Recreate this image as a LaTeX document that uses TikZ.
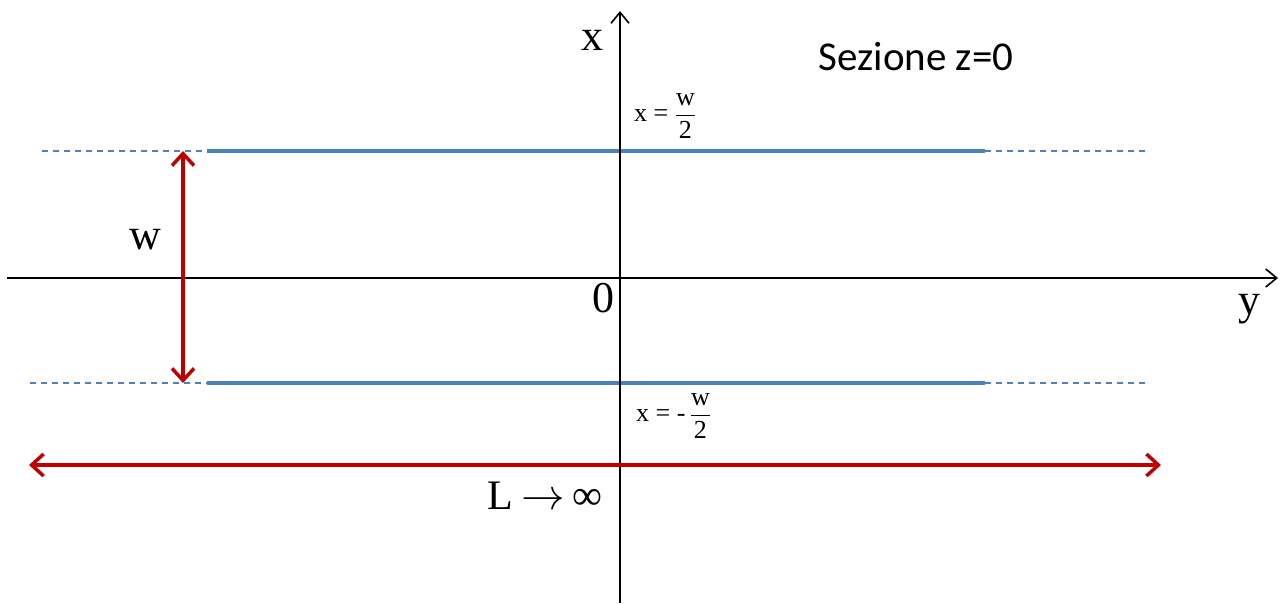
\documentclass[tikz,border=0pt]{standalone}
\usepackage{fontspec}
\usepackage{amsmath}
\usepackage{graphicx}
\setmainfont{Liberation Serif}
\newfontfamily\calib{Carlito}
\usetikzlibrary{arrows.meta}
\definecolor{lineblue}{HTML}{4F81BD}
\definecolor{darkred}{HTML}{C00000}
\begin{document}
\begin{tikzpicture}[x=1pt,y=-1pt,
  axis/.style={draw=black,line width=1.8pt,-{Straight Barb[length=11pt,width=18pt,line width=1.6pt]}},
  plate/.style={draw=lineblue,line width=3.5pt},
  ext/.style={draw=lineblue,line width=1.3pt,dash pattern=on 6pt off 5pt},
  dim/.style={draw=darkred,line width=3.5pt,{Straight Barb[length=12pt,width=22pt,line width=3.5pt]}-{Straight Barb[length=12pt,width=22pt,line width=3.5pt]}},
  big/.style={font=\fontsize{44}{48}\selectfont,inner sep=0pt},
  small/.style={font=\fontsize{26}{28}\selectfont,inner sep=0pt,anchor=west}]
\useasboundingbox (0,0) rectangle (1280,603);
% coordinates
\coordinate (xb) at (620,603);
\coordinate (xt) at (620,11);
\coordinate (yl) at (7,278);
\coordinate (yr) at (1278,278);
\coordinate (ua) at (42,151);
\coordinate (ub) at (207,151);
\coordinate (uc) at (985,151);
\coordinate (ud) at (1148,151);
\coordinate (la) at (30,383);
\coordinate (lb) at (207,383);
\coordinate (lc) at (985,383);
\coordinate (ld) at (1148,383);
\coordinate (wt) at (183,151);
\coordinate (wb) at (183,383);
\coordinate (Ll) at (29,465);
\coordinate (Lr) at (1161,465);
% plates
\draw[ext] (ua) -- (ub);
\draw[ext] (uc) -- (ud);
\draw[ext] (la) -- (lb);
\draw[ext] (lc) -- (ld);
\draw[plate] (ub) -- (uc);
\draw[plate] (lb) -- (lc);
% axes
\draw[axis] (yl) -- (yr);
\draw[axis] (xb) -- (xt);
% dimensions
\draw[dim] (wt) -- (wb);
\draw[dim] (Ll) -- (Lr);
% labels
\node[big] (lx) at (592,40) {x};
\node[big] (ly) at (1249,309) {y};
\node[big] (lo) at (603,298) {0};
\node[big] (lw) at (145,240) {w};
\node[font=\fontsize{42}{46}\selectfont,inner sep=0pt] (lL) at (545,496) {L\hspace{8pt}\scalebox{1.75}{$\rightarrow$}\hspace{8pt}∞};
\node[font=\calib\fontsize{41}{46}\selectfont,inner sep=0pt] (sez) at (916,57) {Sezione z=0};
\node[small] (up) at (634,116) {x = $\dfrac{\text{w}}{\text{2}}$};
\node[small] (lo2) at (636,416) {x = -\,$\dfrac{\text{w}}{\text{2}}$};
\end{tikzpicture}
\end{document}
